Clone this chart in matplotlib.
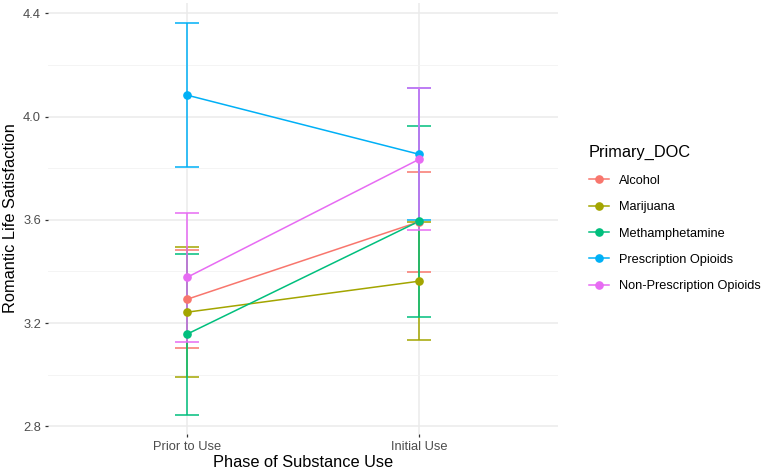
import numpy as np
import matplotlib.pyplot as plt
from matplotlib.lines import Line2D

plt.rcParams['font.family'] = ['Liberation Sans', 'DejaVu Sans']

# дані
phases = ['Prior to Use', 'Initial Use']
groups = ['Alcohol', 'Marijuana', 'Methamphetamine', 'Prescription Opioids', 'Non-Prescription Opioids']
colors = ['#F8766D', '#A3A500', '#00BF7D', '#00B0F6', '#E76BF3']

means = {
    'Alcohol': [3.292, 3.592],
    'Marijuana': [3.242, 3.362],
    'Methamphetamine': [3.157, 3.594],
    'Prescription Opioids': [4.083, 3.854],
    'Non-Prescription Opioids': [3.377, 3.834],
}
errors = {
    'Alcohol': [0.19, 0.194],
    'Marijuana': [0.252, 0.229],
    'Methamphetamine': [0.312, 0.37],
    'Prescription Opioids': [0.28, 0.256],
    'Non-Prescription Opioids': [0.25, 0.275],
}

fig = plt.figure(figsize=(7.65, 4.73), dpi=100)
ax = fig.add_axes([48 / 765, 39 / 473, 510 / 765, 431 / 473])

x = np.arange(1, len(phases) + 1)

for i, g in enumerate(groups):
    ax.errorbar(x, means[g], yerr=errors[g], fmt='none', ecolor=colors[i],
                elinewidth=1.1, capsize=8.3, capthick=1.1, zorder=2 + i * 0.01)
for i, g in enumerate(groups):
    ax.plot(x, means[g], color=colors[i], lw=1.1, zorder=3 + i * 0.01)
for i, g in enumerate(groups):
    ax.plot(x, means[g], 'o', color=colors[i], ms=5.2, zorder=4 + i * 0.01)

ax.set_xlim(0.4, 2.6)
ax.set_ylim(2.77, 4.44)
ax.set_xticks(x)
ax.set_xticklabels(phases)
ax.set_yticks([2.8, 3.2, 3.6, 4.0, 4.4])
ax.set_yticks([3.0, 3.4, 3.8, 4.2], minor=True)

for s in ax.spines.values():
    s.set_visible(False)
ax.grid(True, which='major', color='#EBEBEB', lw=1.1, zorder=0)
ax.grid(True, which='minor', axis='y', color='#F2F2F2', lw=0.6, zorder=0)
ax.tick_params(which='major', length=2.5, width=0.9, color='#333333',
               labelcolor='#4D4D4D', labelsize=9.3, pad=2.5)
ax.tick_params(which='minor', length=0)
ax.set_axisbelow(True)

ax.set_xlabel('Phase of Substance Use', fontsize=11.8, labelpad=1.5)
ax.set_ylabel('Romantic Life Satisfaction', fontsize=11.8, labelpad=3.5)

handles = [Line2D([0], [0], color=c, lw=1.1, marker='o', ms=5.2) for c in colors]
leg = fig.legend(handles, groups, title='Primary_DOC', loc='upper left',
                 bbox_to_anchor=(577 / 765, 1 - 133 / 473), frameon=False,
                 fontsize=9.2, title_fontsize=11.8, handlelength=1.6,
                 labelspacing=1.12, handletextpad=0.8, alignment='left')
leg._legend_box.sep = 11

fig.savefig('out.png', dpi=100)
